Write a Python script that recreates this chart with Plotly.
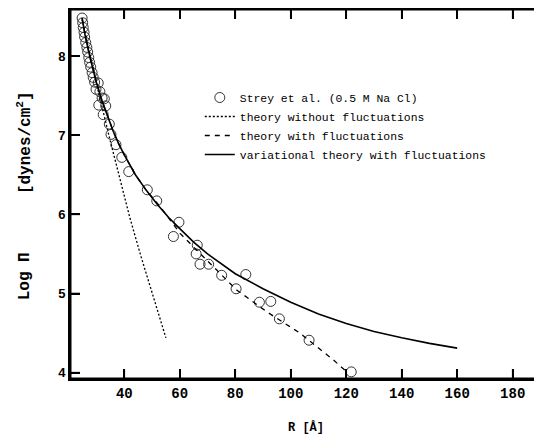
import plotly.graph_objs as go

# Strey et al. data (R in Angstrom, log of osmotic pressure)
strey_R = [24.8, 25.0, 25.2, 25.5, 25.7, 26.1, 26.5, 26.8, 27.2, 27.5, 27.9, 28.4,
           28.8, 29.3, 30.6, 29.8, 31.2, 32.0, 32.8, 30.8, 33.3, 32.4, 34.6, 35.2,
           37.0, 39.1, 41.6, 48.3, 51.7, 57.7, 59.7, 65.9, 66.3, 67.3, 70.4, 75.1,
           83.8, 80.3, 88.7, 92.8, 95.9, 106.6, 121.8]
strey_logP = [8.48, 8.42, 8.36, 8.30, 8.24, 8.17, 8.11, 8.05, 7.98, 7.92, 7.86, 7.79,
              7.73, 7.67, 7.66, 7.58, 7.55, 7.47, 7.46, 7.38, 7.37, 7.26, 7.14, 7.01,
              6.88, 6.72, 6.54, 6.31, 6.17, 5.72, 5.90, 5.50, 5.61, 5.37, 5.37, 5.23,
              5.24, 5.06, 4.89, 4.90, 4.68, 4.41, 4.01]

# theory without fluctuations
nofl_R = [24.8, 28, 31, 34.85, 38, 40.3, 42.06, 46, 50, 55]
nofl_logP = [8.46, 7.95, 7.50, 6.94, 6.50, 6.18, 5.95, 5.47, 5.00, 4.44]

# theory with fluctuations
fl_R = [24.8, 26, 28, 30, 32, 34, 36, 38, 40, 44, 48, 52.9, 60.1, 64.9, 70, 75,
        80.5, 91.3, 103.3, 115.4, 120.2]
fl_logP = [8.48, 8.24, 7.93, 7.66, 7.43, 7.23, 7.05, 6.89, 6.75, 6.50, 6.30, 6.10,
           5.76, 5.59, 5.41, 5.24, 5.045, 4.77, 4.50, 4.16, 4.01]

# variational theory with fluctuations
var_R = [24.8, 26, 28, 30, 32, 34, 36, 38, 40, 44, 48, 52, 56, 60, 65, 70, 80, 90,
         100, 110, 120, 130, 140, 150, 160]
var_logP = [8.48, 8.24, 7.93, 7.66, 7.43, 7.23, 7.05, 6.89, 6.75, 6.50, 6.30, 6.12,
            5.96, 5.82, 5.65, 5.50, 5.25, 5.06, 4.89, 4.74, 4.62, 4.52, 4.44, 4.37, 4.31]

x_ticks = [40, 60, 80, 100, 120, 140, 160, 180]
y_ticks = [4, 5, 6, 7, 8]

x_min, x_max = 20.43, 190.56
y_min, y_max = 3.92, 8.594

mono = "Liberation Mono"

# tick marks drawn as short segments (about 10 px long, pointing inward)
dy = (y_max - y_min) * 10 / 370
dx = (x_max - x_min) * 10 / 472
tick_x, tick_y = [], []
for v in x_ticks:
    tick_x += [v, v, None, v, v, None]
    tick_y += [y_min, y_min + dy, None, y_max, y_max - dy, None]
for v in y_ticks:
    tick_x += [x_min, x_min + dx, None, x_max, x_max - dx / 2, None]
    tick_y += [v, v, None, v, v, None]

data = [
    go.Scatter(x=strey_R, y=strey_logP, mode='markers',
               marker=dict(symbol='circle-open', size=10, color='#333',
                           line=dict(width=1, color='#333')),
               name='Strey et al. (0.5 M Na Cl)'),
    go.Scatter(x=nofl_R, y=nofl_logP, mode='lines',
               line=dict(color='black', width=1.3, dash='2px,2px'),
               name='theory without fluctuations'),
    go.Scatter(x=fl_R, y=fl_logP, mode='lines',
               line=dict(color='black', width=1.3, dash='5px,5px'),
               name='theory with fluctuations'),
    go.Scatter(x=var_R, y=var_logP, mode='lines',
               line=dict(color='black', width=1.6),
               name='variational theory with fluctuations'),
    # frame: top, left and bottom edges (right edge is cut off in the original)
    go.Scatter(x=[x_max, x_min, x_min, x_max], y=[y_max, y_max, y_min, y_min],
               mode='lines', line=dict(color='black', width=3),
               showlegend=False, hoverinfo='skip'),
    go.Scatter(x=tick_x, y=tick_y, mode='lines',
               line=dict(color='black', width=1.6),
               showlegend=False, hoverinfo='skip'),
]

# the page adds an 8px body margin, so the figure is a bit smaller than the window
layout = go.Layout(
    width=534, height=429,
    margin=dict(l=62, r=0, t=1, b=58),
    plot_bgcolor='white', paper_bgcolor='white',
    showlegend=True,
    legend=dict(x=0.275, y=0.8, xanchor='left', yanchor='top',
                bgcolor='rgba(0,0,0,0)',
                font=dict(family=mono, size=11.4, color='black')),
    xaxis=dict(range=[x_min, x_max], tickmode='array', tickvals=x_ticks,
               ticks='inside', ticklen=10, tickwidth=2, tickcolor='black',
               showline=True, linewidth=2, linecolor='black', mirror='ticks',
               showgrid=False, zeroline=False,
               tickfont=dict(family=mono, size=14, color='black', weight='bold')),
    yaxis=dict(range=[y_min, y_max], tickmode='array', tickvals=y_ticks,
               ticks='inside', ticklen=10, tickwidth=2, tickcolor='black',
               showline=True, linewidth=2, linecolor='black',
               showgrid=False, zeroline=False,
               tickfont=dict(family='Liberation Sans', size=13, color='black',
                             weight='bold')),
    annotations=[
        dict(text='R [Å]', xref='paper', yref='paper', x=0.5, y=-0.13,
             xanchor='center', yanchor='middle', showarrow=False,
             font=dict(family=mono, size=12, color='black', weight='bold')),
        dict(text='Log Π', xref='paper', yref='paper', x=-0.095, y=0.278,
             xanchor='center', yanchor='middle', showarrow=False, textangle=-90,
             font=dict(family=mono, size=16, color='black', weight='bold')),
        dict(text='[dynes/cm<sup>2</sup>]', xref='paper', yref='paper',
             x=-0.095, y=0.638, xanchor='center', yanchor='middle',
             showarrow=False, textangle=-90,
             font=dict(family=mono, size=16, color='black', weight='bold')),
    ],
)

fig = go.Figure(data=data, layout=layout)
fig.write_html("out.html")
